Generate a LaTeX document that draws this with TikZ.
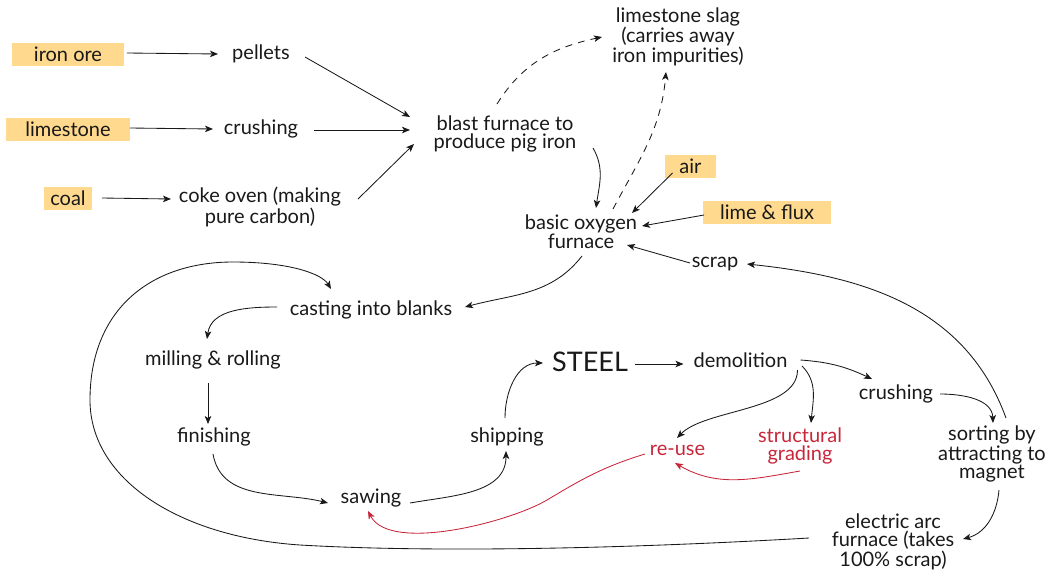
\documentclass[tikz,border=0pt]{standalone}
\usepackage{fontspec}
\setmainfont{Lato}
\usetikzlibrary{arrows.meta,calc}
\definecolor{rawfill}{RGB}{255,218,142}
\definecolor{reusered}{RGB}{200,38,58}
\definecolor{ink}{RGB}{25,25,25}
\begin{document}
\begin{tikzpicture}[x=1pt,y=1pt,
  lbl/.style={font=\fontsize{20}{18}\selectfont, text=ink, align=center, inner sep=2pt},
  txt/.style={lbl, yshift=-1pt},
  raw/.style={lbl, fill=rawfill, inner sep=0pt, minimum height=23pt},
  arr/.style={-{Stealth[length=8pt,width=6.5pt,inset=2pt]}, line width=0.85pt, draw=ink},
  slagarr/.style={arr, dash pattern=on 7pt off 6pt},
  redarr/.style={arr, draw=reusered},
]
\useasboundingbox (0,0) rectangle (1049,-571);

% raw materials
\node[raw, minimum width=112pt] (iron) at (68,-54.5) {iron ore};
\node[raw, minimum width=124pt] (lime) at (68,-129.5) {limestone};
\node[raw, minimum width=48pt] (coal) at (68,-198.5) {coal};
\node[raw, minimum width=51pt] (air) at (690.5,-166.5) {air};
\node[raw, minimum width=128pt] (flux) at (767,-212.5) {lime \& flux};

% process steps
\node[txt] (pellets) at (261,-53) {pellets};
\node[txt] (crushA) at (261,-128) {crushing};
\node[txt] (coke) at (260,-206) {coke oven (making\\pure carbon)};
\node[txt] (blast) at (505,-133) {blast furnace to\\produce pig iron};
\node[txt] (slag) at (678,-36) {limestone slag\\(carries away\\iron impurities)};
\node[txt] (bof) at (581,-231) {basic oxygen\\furnace};
\node[txt] (scrap) at (715,-263) {scrap};
\node[txt] (cast) at (371,-309) {casting into blanks};
\node[txt] (mill) at (213,-359) {milling \& rolling};
\node[txt] (finish) at (214,-436) {finishing};
\node[txt] (saw) at (371,-497) {sawing};
\node[txt] (ship) at (507,-436) {shipping};
\node[txt, font=\fontsize{27}{28}\selectfont] (steel) at (590,-361) {STEEL};
\node[txt] (demo) at (740.5,-359) {demolition};
\node[txt] (crushB) at (896,-393) {crushing};
\node[txt, text=reusered] (reuse) at (677.5,-449) {re-use};
\node[txt, text=reusered] (grade) at (800,-445) {structural\\grading};
\node[txt] (sort) at (992,-453) {sorting by\\attracting to\\magnet};
\node[txt] (eaf) at (893,-541) {electric arc\\furnace (takes\\100\% scrap)};

% feed lines
\draw[arr] ($(iron)+(59,1.5)$) -- ($(pellets)+(-43,0)$);
\draw[arr] ($(lime)+(62,1.5)$) -- ($(crushA)+(-48,0)$);
\draw[arr] ($(coal)+(34,0.5)$) -- ($(coke)+(-89,8)$);
\draw[arr] ($(pellets)+(44,-3)$) -- ($(blast)+(-95,17)$);
\draw[arr] ($(crushA)+(53,-1)$) -- ($(blast)+(-95,4)$);
\draw[arr] ($(coke)+(98,8)$) -- ($(blast)+(-91,-10)$);

% slag
\draw[slagarr] ($(blast)+(-8,30)$) to[out=58,in=192] ($(slag)+(-76,0)$);
\draw[slagarr] ($(bof)+(32,23)$) to[out=62,in=-95] ($(slag)+(-12,-35)$);

% into the basic oxygen furnace
\draw[arr] ($(blast)+(88,-14)$) to[out=-60,in=82] ($(bof)+(15,24)$);
\draw[arr] ($(air)+(-18,-6.5)$) -- ($(bof)+(51,19)$);
\draw[arr] ($(flux)+(-63,-2.5)$) -- ($(bof)+(61,6)$);
\draw[arr] ($(scrap)+(-25,1)$) -- ($(bof)+(46,-13)$);
\draw[arr] ($(sort)+(14,36)$) to[out=110,in=-6] ($(scrap)+(32,0)$);

% shaping
\draw[arr] ($(bof)+(1,-24)$) to[out=-128,in=15] ($(cast)+(94,3)$);
\draw[arr] ($(cast)+(-94,3)$) to[out=180,in=82] ($(mill)+(-6,21)$);
\draw[arr] ($(mill)+(-5,-23)$) -- ($(finish)+(-6,13)$);
\draw[arr] ($(finish)+(-1,-17)$) to[out=-80,in=166] ($(saw)+(-43,-5)$);
\draw[arr] ($(saw)+(39,-5)$) to[out=10,in=-90] ($(ship)+(-1,-14)$);
\draw[arr] ($(ship)+(-2,19)$) to[out=90,in=180] ($(steel)+(-47,-1)$);
\draw[arr] ($(steel)+(45,-2)$) -- ($(demo)+(-57,-4)$);

% end of life
\draw[arr] ($(demo)+(60,0)$) to[out=-4,in=155] ($(crushB)+(-24,15)$);
\draw[arr] ($(demo)+(57,-10)$) .. controls +(0,-41) and +(28,29) .. ($(reuse)+(-0.5,12)$);
\draw[arr] ($(demo)+(61.5,-6)$) to[out=-45,in=85] ($(grade)+(11,23)$);
\draw[arr] ($(crushB)+(44,0)$) to[out=0,in=92] ($(sort)+(1,31)$);
\draw[arr] ($(sort)+(7,-36)$) to[out=-95,in=15] ($(eaf)+(70,3)$);

% remelted scrap back to casting
\draw[arr] ($(eaf)+(-84,4)$) .. controls (600,-550) and (420,-552) .. (300,-545)
  .. controls (180,-537) and (90,-480) .. (90,-400)
  .. controls (90,-310) and (150,-262) .. (233,-262)
  .. controls (290,-262) and (322,-274) .. ($(cast)+(-40,21)$);

% re-use paths
\draw[redarr] ($(grade)+(0,-25)$) to[out=190,in=-30] ($(reuse)+(-2.5,-13)$);
\draw[redarr] ($(reuse)+(-32.5,-4)$) to[out=197,in=31] (547,-500)
  .. controls (510,-522) and (390,-553) .. ($(saw)+(-3,-13)$);
\end{tikzpicture}
\end{document}
